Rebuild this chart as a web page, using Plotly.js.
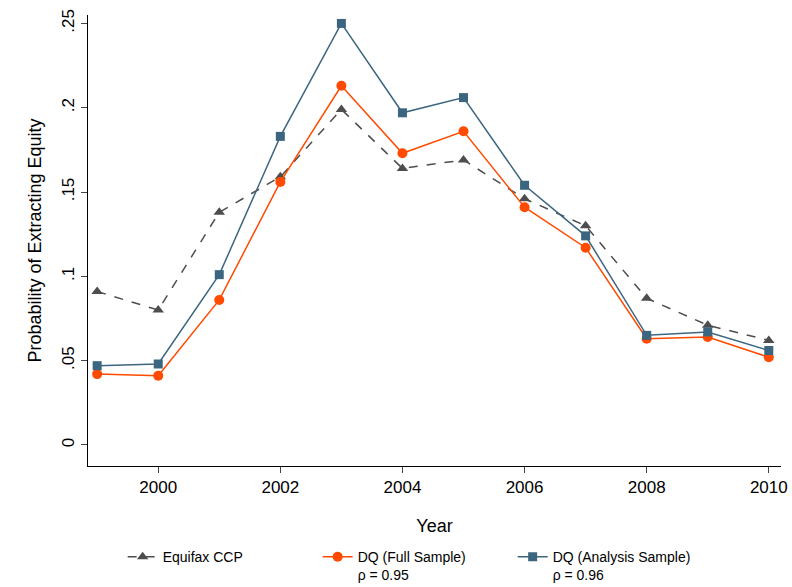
<!DOCTYPE html>
<html><head><script src="https://cdn.plot.ly/plotly-3.0.0.min.js"></script></head>
<body style="margin:0"><div id="myDiv" style="width:792px;height:587px"></div>
<script>
var years = [1999,2000,2001,2002,2003,2004,2005,2006,2007,2008,2009,2010];
var equifax = [.091,.080,.138,.159,.199,.164,.169,.146,.130,.087,.071,.062];
var dqFull = [.042,.041,.086,.156,.213,.173,.186,.141,.117,.063,.064,.052];
var dqAnalysis = [.047,.048,.101,.183,.250,.197,.206,.154,.124,.065,.067,.056];
var yTicks = [0,.05,.1,.15,.2,.25];
var yLabels = ["0",".05",".1",".15",".2",".25"];

var traces = [
  {x: years, y: equifax, name: "Equifax CCP", mode: "lines+markers",
   line: {color: "#4d4d4d", dash: "dash", width: 1.5}, marker: {symbol: "triangle-up", size: 10, color: "#4d4d4d"}},
  {x: years, y: dqFull, name: "DQ (Full Sample)<br>ρ = 0.95", mode: "lines+markers",
   line: {color: "#ff4a00", width: 1.5}, marker: {symbol: "circle", size: 10, color: "#ff4a00"}},
  {x: years, y: dqAnalysis, name: "DQ (Analysis Sample)<br>ρ = 0.96", mode: "lines+markers",
   line: {color: "#3c6680", width: 1.5}, marker: {symbol: "square", size: 9, color: "#3c6680"}}
];

var layout = {
  width: 792, height: 587,
  margin: {l: 88, r: 11, t: 15, b: 121, autoexpand: false},
  paper_bgcolor: "white", plot_bgcolor: "white",
  font: {family: "Liberation Sans, Arial", size: 17, color: "black"},
  xaxis: {range: [1998.85, 2010.2], tickvals: [2000,2002,2004,2006,2008,2010],
    showgrid: false, zeroline: false, showline: true, linecolor: "black",
    ticks: "outside", ticklen: 6, title: {text: "Year", font: {size: 18}, standoff: 22}},
  yaxis: {range: [-0.0125, 0.255], tickvals: yTicks, ticktext: yLabels, tickangle: -90,
    showgrid: false, zeroline: false, showline: true, linecolor: "black",
    ticks: "outside", ticklen: 6, title: {text: "Probability of Extracting Equity", font: {size: 18}, standoff: 12}},
  showlegend: true,
  legend: {orientation: "h", x: 0.05, xanchor: "left", yref: "container", y: 0.078, yanchor: "top",
    font: {size: 14}, valign: "top", entrywidth: 150, tracegroupgap: 0}
};
Plotly.newPlot('myDiv', traces, layout, {displayModeBar: false});
</script></body></html>
